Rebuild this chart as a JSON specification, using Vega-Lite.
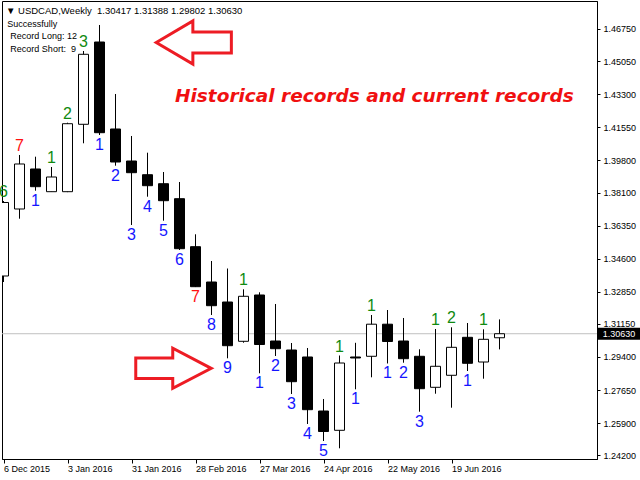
{
  "$schema": "https://vega.github.io/schema/vega-lite/v6.json",
  "width": 595,
  "height": 458,
  "autosize": {"type": "none"},
  "padding": {"left": 2, "top": 1, "right": 43, "bottom": 21},
  "background": "white",
  "config": {
    "view": {"stroke": "black", "strokeWidth": 1},
    "axis": {"grid": false, "labelOverlap": false, "labelBound": false, "labelFlush": false, "domainColor": "black", "tickColor": "black", "labelColor": "black", "labelFont": "Liberation Sans", "labelFontSize": 9},
    "axisX": {"labelAlign": "left", "labelPadding": 1, "tickSize": 4},
    "axisY": {"labelAlign": "left", "labelBaseline": "middle", "labelPadding": 3, "tickSize": 3}
  },
  "datasets": {
    "candles": [
      {"d": "2015-12-06", "o": 1.33684, "h": 1.37651, "l": 1.33366, "c": 1.37572, "n": "6", "k": "long", "pos": "above"},
      {"d": "2015-12-13", "o": 1.37228, "h": 1.40085, "l": 1.36715, "c": 1.39609, "n": "7", "k": "record", "pos": "above"},
      {"d": "2015-12-20", "o": 1.39344, "h": 1.39995, "l": 1.38196, "c": 1.38408, "n": "1", "k": "short", "pos": "below"},
      {"d": "2015-12-27", "o": 1.38143, "h": 1.39450, "l": 1.38143, "c": 1.38921, "n": "1", "k": "long", "pos": "above"},
      {"d": "2016-01-03", "o": 1.38143, "h": 1.41793, "l": 1.38120, "c": 1.41740, "n": "2", "k": "long", "pos": "above"},
      {"d": "2016-01-10", "o": 1.41709, "h": 1.45586, "l": 1.40704, "c": 1.45412, "n": "3", "k": "long", "pos": "above"},
      {"d": "2016-01-17", "o": 1.46062, "h": 1.46962, "l": 1.41143, "c": 1.41264, "n": "1", "k": "short", "pos": "below"},
      {"d": "2016-01-24", "o": 1.41460, "h": 1.43312, "l": 1.39519, "c": 1.39714, "n": "2", "k": "short", "pos": "below"},
      {"d": "2016-01-31", "o": 1.39767, "h": 1.41090, "l": 1.36382, "c": 1.39148, "n": "3", "k": "short", "pos": "below"},
      {"d": "2016-02-07", "o": 1.39042, "h": 1.40206, "l": 1.37879, "c": 1.38461, "n": "4", "k": "short", "pos": "below"},
      {"d": "2016-02-14", "o": 1.38566, "h": 1.39185, "l": 1.36609, "c": 1.37667, "n": "5", "k": "short", "pos": "below"},
      {"d": "2016-02-21", "o": 1.37773, "h": 1.38656, "l": 1.35059, "c": 1.35128, "n": "6", "k": "short", "pos": "below"},
      {"d": "2016-02-28", "o": 1.35234, "h": 1.35890, "l": 1.33100, "c": 1.33118, "n": "7", "k": "record", "pos": "below"},
      {"d": "2016-03-06", "o": 1.33366, "h": 1.34477, "l": 1.31621, "c": 1.32113, "n": "8", "k": "short", "pos": "below"},
      {"d": "2016-03-13", "o": 1.32308, "h": 1.34080, "l": 1.29330, "c": 1.29997, "n": "9", "k": "short", "pos": "below"},
      {"d": "2016-03-20", "o": 1.30229, "h": 1.32980, "l": 1.30155, "c": 1.32610, "n": "1", "k": "long", "pos": "above"},
      {"d": "2016-03-27", "o": 1.32679, "h": 1.32821, "l": 1.28537, "c": 1.30060, "n": "1", "k": "short", "pos": "below"},
      {"d": "2016-04-03", "o": 1.30245, "h": 1.32203, "l": 1.29452, "c": 1.29838, "n": "2", "k": "short", "pos": "below"},
      {"d": "2016-04-10", "o": 1.29769, "h": 1.30139, "l": 1.27442, "c": 1.28092, "n": "3", "k": "short", "pos": "below"},
      {"d": "2016-04-17", "o": 1.29399, "h": 1.29875, "l": 1.25855, "c": 1.26611, "n": "4", "k": "short", "pos": "below"},
      {"d": "2016-04-24", "o": 1.26542, "h": 1.27177, "l": 1.24955, "c": 1.25458, "n": "5", "k": "short", "pos": "below"},
      {"d": "2016-05-01", "o": 1.25521, "h": 1.29478, "l": 1.24569, "c": 1.29081, "n": "1", "k": "long", "pos": "above"},
      {"d": "2016-05-08", "o": 1.29399, "h": 1.30150, "l": 1.27690, "c": 1.29346, "n": "1", "k": "short", "pos": "below"},
      {"d": "2016-05-15", "o": 1.29436, "h": 1.31621, "l": 1.28325, "c": 1.31134, "n": "1", "k": "long", "pos": "above"},
      {"d": "2016-05-22", "o": 1.31134, "h": 1.31885, "l": 1.29055, "c": 1.30219, "n": "1", "k": "short", "pos": "below"},
      {"d": "2016-05-29", "o": 1.30245, "h": 1.31462, "l": 1.29097, "c": 1.29309, "n": "2", "k": "short", "pos": "below"},
      {"d": "2016-06-05", "o": 1.29436, "h": 1.29806, "l": 1.26505, "c": 1.27722, "n": "3", "k": "short", "pos": "below"},
      {"d": "2016-06-12", "o": 1.27796, "h": 1.30880, "l": 1.27457, "c": 1.28907, "n": "1", "k": "long", "pos": "above"},
      {"d": "2016-06-19", "o": 1.28431, "h": 1.30970, "l": 1.26717, "c": 1.29912, "n": "2", "k": "long", "pos": "above"},
      {"d": "2016-06-26", "o": 1.30441, "h": 1.31197, "l": 1.28658, "c": 1.29066, "n": "1", "k": "short", "pos": "below"},
      {"d": "2016-07-03", "o": 1.29134, "h": 1.30864, "l": 1.28251, "c": 1.30335, "n": "1", "k": "long", "pos": "above"},
      {"d": "2016-07-10", "o": 1.30417, "h": 1.31388, "l": 1.29802, "c": 1.30630, "n": "", "k": "none", "pos": "none"}
    ],
    "current": [{"d": "2016-08-31T06:45:00Z", "p": 1.3063, "t": "1.30630"}],
    "arrows": [
      {"d": "2016-02-27T08:10:00Z", "p": 1.46036, "dir": "left"},
      {"d": "2016-02-18T09:00:00Z", "p": 1.28801, "dir": "right"}
    ],
    "notes": [{"d": "2016-02-19T00:45:00Z", "p": 1.42872, "t": "Historical records and current records"}],
    "info": [
      {"d": "2015-12-07T02:15:00Z", "p": 1.47528, "t": "▼ USDCAD,Weekly\u00a0 1.30417 1.31388 1.29802 1.30630", "s": "head"},
      {"d": "2015-12-07T16:00:00Z", "p": 1.46872, "t": "Successfully", "s": "body"},
      {"d": "2015-12-09T00:00:00Z", "p": 1.46205, "t": "Record Long: 12", "s": "body"},
      {"d": "2015-12-09T00:00:00Z", "p": 1.45549, "t": "Record Short:\u00a0 9", "s": "body"}
    ]
  },
  "layer": [
    {
      "data": {"name": "current"},
      "mark": {"type": "rule", "color": "#c0c0c0", "strokeWidth": 1},
      "encoding": {
        "y": {
          "field": "p", "type": "quantitative", "title": null,
          "scale": {"domain": [1.24003, 1.48231], "nice": false, "zero": false, "padding": 0},
          "axis": {
            "orient": "right", "title": null, "tickCount": 40,
            "values": [1.242, 1.259, 1.2765, 1.294, 1.3115, 1.3285, 1.346, 1.3635, 1.381, 1.398, 1.4155, 1.433, 1.4505, 1.4675],
            "format": ".5f", "labelOverlap": false
          }
        }
      }
    },
    {
      "data": {"name": "candles"},
      "mark": {"type": "rule", "color": "black", "strokeWidth": 1, "clip": true},
      "encoding": {
        "x": {
          "field": "d", "type": "temporal", "title": null,
          "scale": {"type": "utc", "padding": 0, "domain": [
            {"year": 2015, "month": 12, "date": 5, "hours": 8, "minutes": 15, "utc": true},
            {"year": 2016, "month": 8, "date": 21, "hours": 15, "minutes": 45, "utc": true}
          ]},
          "axis": {
            "orient": "bottom", "title": null, "tickCount": 40,
            "values": [
              {"year": 2015, "month": 12, "date": 6, "utc": true},
              {"year": 2016, "month": 1, "date": 3, "utc": true},
              {"year": 2016, "month": 1, "date": 31, "utc": true},
              {"year": 2016, "month": 2, "date": 28, "utc": true},
              {"year": 2016, "month": 3, "date": 27, "utc": true},
              {"year": 2016, "month": 4, "date": 24, "utc": true},
              {"year": 2016, "month": 5, "date": 22, "utc": true},
              {"year": 2016, "month": 6, "date": 19, "utc": true}
            ],
            "labelExpr": "utcFormat(datum.value, '%-d %b %Y')",
            "labelOverlap": false
          }
        },
        "y": {"field": "l", "type": "quantitative", "title": null},
        "y2": {"field": "h"}
      }
    },
    {
      "data": {"name": "candles"},
      "mark": {"type": "bar", "width": 10, "stroke": "black", "strokeWidth": 1, "clip": true, "cornerRadius": 0},
      "encoding": {
        "x": {"field": "d", "type": "temporal", "title": null},
        "y": {"field": "o", "type": "quantitative", "title": null},
        "y2": {"field": "c"},
        "fill": {"condition": {"test": "datum.c > datum.o", "value": "white"}, "value": "black"}
      }
    },
    {
      "data": {"name": "candles"},
      "transform": [{"filter": "datum.pos === 'above'"}],
      "mark": {"type": "text", "font": "Liberation Sans", "fontSize": 16, "align": "center", "baseline": "alphabetic", "dy": -4},
      "encoding": {
        "x": {"field": "d", "type": "temporal", "title": null},
        "y": {"field": "h", "type": "quantitative", "title": null},
        "text": {"field": "n"},
        "color": {"field": "k", "type": "nominal", "legend": null,
          "scale": {"domain": ["long", "short", "record"], "range": ["#108a10", "#1515ff", "#ff1010"]}}
      }
    },
    {
      "data": {"name": "candles"},
      "transform": [{"filter": "datum.pos === 'below'"}],
      "mark": {"type": "text", "font": "Liberation Sans", "fontSize": 16, "align": "center", "baseline": "top", "dy": 2},
      "encoding": {
        "x": {"field": "d", "type": "temporal", "title": null},
        "y": {"field": "l", "type": "quantitative", "title": null},
        "text": {"field": "n"},
        "color": {"field": "k", "type": "nominal", "legend": null}
      }
    },
    {
      "data": {"name": "arrows"},
      "mark": {"type": "point", "filled": false, "stroke": "#ed1c24", "strokeWidth": 3, "size": 5700, "opacity": 1, "strokeJoin": "miter"},
      "encoding": {
        "x": {"field": "d", "type": "temporal", "title": null},
        "y": {"field": "p", "type": "quantitative", "title": null},
        "shape": {"field": "dir", "type": "nominal", "legend": null,
          "scale": {"domain": ["left", "right"], "range": [
            "M-1,0L-0.03,-0.57L-0.03,-0.28L0.99,-0.28L0.99,0.28L-0.03,0.28L-0.03,0.57Z",
            "M1,0L-0.02,-0.53L-0.02,-0.27L-1,-0.27L-1,0.27L-0.02,0.27L-0.02,0.53Z"
          ]}}
      }
    },
    {
      "data": {"name": "notes"},
      "mark": {"type": "text", "font": "DejaVu Sans", "fontSize": 18.5, "fontWeight": "bold", "fontStyle": "italic", "align": "left", "baseline": "alphabetic", "color": "#f01010"},
      "encoding": {
        "x": {"field": "d", "type": "temporal", "title": null},
        "y": {"field": "p", "type": "quantitative", "title": null},
        "text": {"field": "t"}
      }
    },
    {
      "data": {"name": "info"},
      "transform": [{"filter": "datum.s === 'head'"}],
      "mark": {"type": "text", "font": "Liberation Sans", "fontSize": 9.5, "align": "left", "baseline": "alphabetic", "color": "black"},
      "encoding": {
        "x": {"field": "d", "type": "temporal", "title": null},
        "y": {"field": "p", "type": "quantitative", "title": null},
        "text": {"field": "t"}
      }
    },
    {
      "data": {"name": "info"},
      "transform": [{"filter": "datum.s === 'body'"}],
      "mark": {"type": "text", "font": "Liberation Sans", "fontSize": 9, "align": "left", "baseline": "alphabetic", "color": "black"},
      "encoding": {
        "x": {"field": "d", "type": "temporal", "title": null},
        "y": {"field": "p", "type": "quantitative", "title": null},
        "text": {"field": "t"}
      }
    },
    {
      "data": {"name": "current"},
      "mark": {"type": "point", "filled": true, "color": "black", "size": 1764, "opacity": 1, "shape": "M-1,-0.29H1V0.29H-1Z"},
      "encoding": {
        "x": {"field": "d", "type": "temporal", "title": null},
        "y": {"field": "p", "type": "quantitative", "title": null}
      }
    },
    {
      "data": {"name": "current"},
      "mark": {"type": "text", "font": "Liberation Sans", "fontSize": 9, "align": "center", "baseline": "middle", "color": "white"},
      "encoding": {
        "x": {"field": "d", "type": "temporal", "title": null},
        "y": {"field": "p", "type": "quantitative", "title": null},
        "text": {"field": "t"}
      }
    }
  ]
}
